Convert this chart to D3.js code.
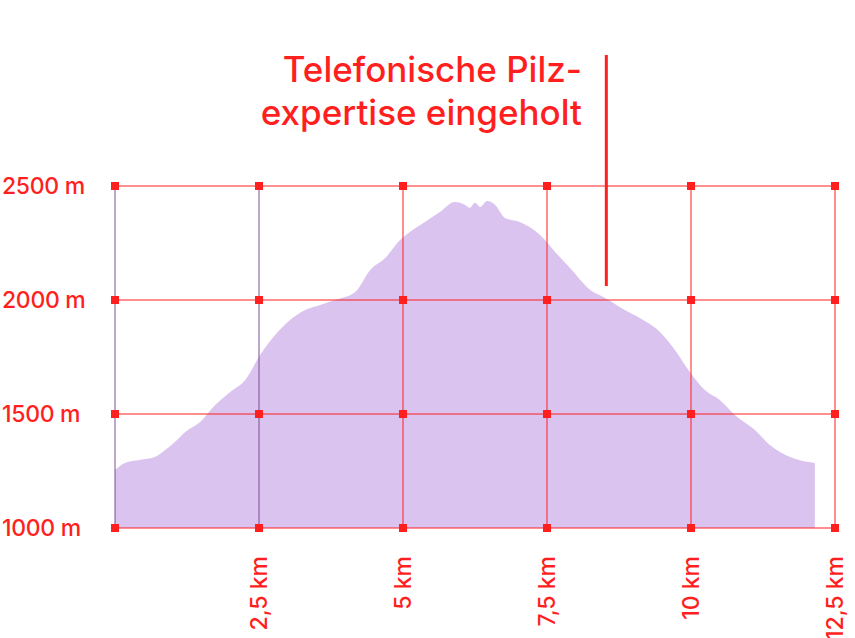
<!DOCTYPE html>
<html><head><meta charset="utf-8">
<script src="https://cdn.jsdelivr.net/npm/d3@7"></script>
<style>body{margin:0;background:#fff}svg{display:block}text{font-family:Inter,"Noto Sans",sans-serif;font-weight:500}</style>
</head><body><svg id="c" width="855" height="638"></svg>
<script>
const distKm = [0,0.17,0.43,0.69,0.87,1.04,1.22,1.48,1.74,2.0,2.26,2.52,2.78,3.04,3.3,3.56,3.82,4.17,4.43,4.69,4.95,5.12,5.38,5.64,5.9,6.08,6.16,6.25,6.34,6.46,6.6,6.77,7.03,7.38,7.64,7.9,8.25,8.51,8.85,9.11,9.46,9.72,9.98,10.24,10.5,10.76,11.11,11.37,11.72,12.15];
const elevM = [1254,1285,1298,1311,1342,1377,1421,1465,1539,1596,1649,1759,1846,1912,1956,1978,2000,2035,2132,2184,2263,2298,2342,2386,2430,2417,2404,2426,2408,2434,2417,2360,2342,2285,2211,2140,2044,2009,1956,1921,1860,1781,1684,1605,1561,1496,1430,1364,1311,1285];
const xTicks = [0,2.5,5,7.5,10,12.5];
const xTickLabels = ["","2,5 km","5 km","7,5 km","10 km","12,5 km"];
const yTicks = [1000,1500,2000,2500];
const annotation = ["Telefonische Pilz-","expertise eingeholt"];
const annotationKm = 8.53;

const red = "#ff1f1f";
const svg = d3.select("#c");
const x = d3.scaleLinear().domain([0,12.5]).range([115,835]);
const y = d3.scaleLinear().domain([1000,2500]).range([528,186]);
const pts = distKm.map((d,i)=>[d,elevM[i]]);

svg.append("path").datum(pts)
  .attr("fill","#dac3ee")
  .attr("d", d3.area().x(d=>x(d[0])).y0(y(1000)).y1(d=>y(d[1])).curve(d3.curveMonotoneX));

// grid
svg.selectAll("line.h").data(yTicks).join("line")
  .attr("x1",x(0)).attr("x2",x(12.5)).attr("y1",d=>y(d)).attr("y2",d=>y(d))
  .attr("stroke",red).attr("stroke-width",1);
svg.selectAll("line.v").data(xTicks).join("line")
  .attr("x1",d=>x(d)).attr("x2",d=>x(d)).attr("y1",y(1000)).attr("y2",y(2500))
  .attr("stroke",(d,i)=>i<2?"#7a4f9a":red).attr("stroke-width",1);

// markers
const grid = [];
xTicks.forEach(a=>yTicks.forEach(b=>grid.push([a,b])));
svg.selectAll("rect.m").data(grid).join("rect")
  .attr("x",d=>x(d[0])-4).attr("y",d=>y(d[1])-4).attr("width",8).attr("height",8).attr("fill",red);

// labels
svg.selectAll("text.y").data(yTicks).join("text")
  .attr("x",2).attr("y",d=>y(d)+8).attr("fill",red).attr("font-size",23)
  .attr("letter-spacing","-0.3").text(d=>d+" m");
svg.selectAll("text.x").data(xTicks.slice(1)).join("text")
  .attr("transform",d=>`translate(${x(d)+8},556) rotate(-90)`)
  .attr("text-anchor","end").attr("fill",red).attr("font-size",23)
  .text((d,i)=>xTickLabels[i+1]);

// annotation
svg.append("line").attr("x1",x(annotationKm)).attr("x2",x(annotationKm))
  .attr("y1",55).attr("y2",286).attr("stroke",red).attr("stroke-width",3);
svg.selectAll("text.a").data(annotation).join("text")
  .attr("x",582).attr("y",(d,i)=>82+i*43).attr("text-anchor","end")
  .attr("fill",red).attr("font-size",35).text(d=>d);
</script></body></html>
